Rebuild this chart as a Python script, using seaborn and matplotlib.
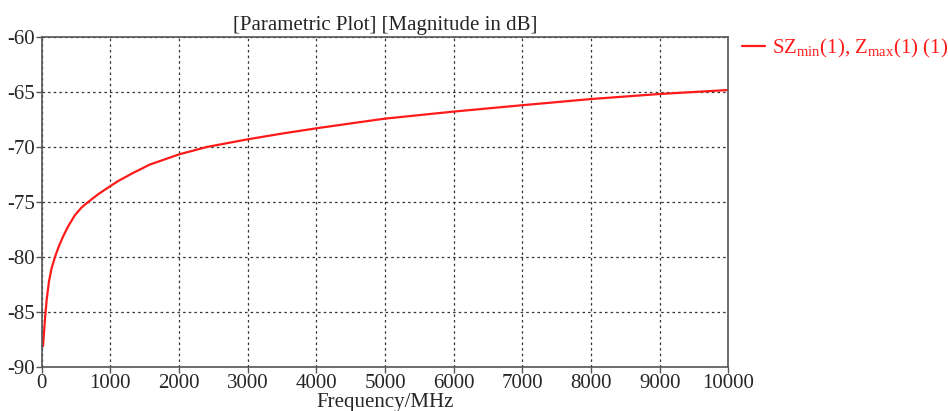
"""
Parametric plot of magnitude (dB) versus frequency.
"""

import matplotlib

matplotlib.use("Agg")
import matplotlib.pyplot as plt
import pandas as pd
import seaborn as sns

# Values
freq_mhz = [19, 48, 72, 106, 145, 193, 251, 314, 386, 483, 580, 676, 821,
            1000, 1111, 1330, 1573, 2000, 2403, 3000, 3519, 4000, 4631,
            5000, 6000, 7000, 8000, 9000, 10000]
mag_db = [-88.1, -85.6, -83.9, -82.2, -81.0, -80.0, -79.0, -78.1, -77.2,
          -76.2, -75.5, -75.0, -74.3, -73.55, -73.1, -72.36, -71.6, -70.67,
          -70.0, -69.3, -68.76, -68.3, -67.74, -67.42, -66.78, -66.2,
          -65.64, -65.18, -64.82]
x_ticks = [0, 1000, 2000, 3000, 4000, 5000, 6000, 7000, 8000, 9000, 10000]
y_ticks = [-90, -85, -80, -75, -70, -65, -60]
series_label = r"SZ$_{\mathrm{min}}$(1), Z$_{\mathrm{max}}$(1) (1)"

sns.set_style("white")
plt.rcParams["font.family"] = ["Liberation Serif", "DejaVu Serif"]
plt.rcParams["mathtext.fontset"] = "custom"
plt.rcParams["mathtext.rm"] = "Liberation Serif"
plt.rcParams["mathtext.it"] = "Liberation Serif:italic"
plt.rcParams["axes.unicode_minus"] = False

df = pd.DataFrame({"Frequency/MHz": freq_mhz, "dB": mag_db})

fig = plt.figure(figsize=(9.48, 4.11), dpi=100)
ax = fig.add_axes([0.044, 0.107, 0.7244, 0.803])

sns.lineplot(data=df, x="Frequency/MHz", y="dB", ax=ax, color="#ff1a1a",
             lw=1.6, label=series_label)

ax.set_xlim(0, 10000)
ax.set_ylim(-90, -60)
ax.set_xticks(x_ticks)
ax.set_yticks(y_ticks)
ax.tick_params(axis="both", labelsize=15, length=4, width=1,
               direction="out", color="#555555", pad=1,
               left=True, bottom=True)
ax.grid(True, color="#333333", linestyle=(0, (2, 2.5)), lw=0.9)
for sp in ax.spines.values():
    sp.set_color("#555555")
    sp.set_linewidth(1.2)

ax.set_xlabel("Frequency/MHz", fontsize=15, labelpad=0)
ax.set_ylabel("")
ax.set_title("[Parametric Plot] [Magnitude in dB]", fontsize=15, pad=5)

ax.legend(loc="upper left", bbox_to_anchor=(1.02, 1.0), frameon=False,
          fontsize=15, labelcolor="#ff1a1a", handlelength=1.1,
          handletextpad=0.35, borderaxespad=0.0, borderpad=0.0)

fig.savefig("out.png", dpi=100)
